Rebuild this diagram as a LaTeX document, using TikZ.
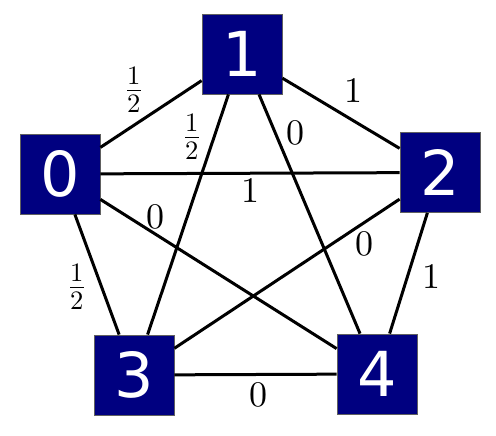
\documentclass[tikz,border=0pt]{standalone}
\usepackage{fontspec}
\usepackage{unicode-math}
\setmathfont{Latin Modern Math}
\newfontfamily\boxfont{DejaVu Sans}
\usetikzlibrary{positioning}
\definecolor{boxblue}{RGB}{0,0,128}
\definecolor{boxedge}{RGB}{96,96,96}
\tikzset{
	vertex/.style={draw=boxedge, line width=0.8pt, fill=boxblue, text=white,
		minimum size=80pt, inner sep=0pt, font=\boxfont\fontsize{62}{62}\selectfont}
}
\tikzset{
	weight/.style={inner sep=0pt, font=\fontsize{36}{40}\selectfont},
	halfweight/.style={weight, font=\fontsize{38}{42}\selectfont}
}
\tikzset{
	link/.style={line width=3pt}
}

\begin{document}
\begin{tikzpicture}[x=1pt, y=-1pt]
      \useasboundingbox (0,0) rectangle (496,436);
      % vertices
      \foreach \n/\x/\y in {0/60/174, 1/242/54, 2/440/172.5, 3/134/375, 4/377/374}
        \node[vertex] (v\n) at (\x,\y) {\n};
      % edges
      \foreach \a/\b in {0/1, 1/2, 1/3, 1/4, 0/2, 0/4, 2/3, 2/4, 0/3, 3/4}
        \draw[link] (v\a) -- (v\b);
      % weights
      \node[halfweight] (w01) at (134,90) {$\frac{1}{2}$};
      \node[halfweight] (w13) at (192,137) {$\frac{1}{2}$};
      \node[halfweight] (w03) at (77,287) {$\frac{1}{2}$};
      \foreach \e/\x/\y/\l in {12/353/91/1, 14/295/133/0, 02/250/191/1, 04/155.5/217/0,
          23/364/244/0, 24/431/276.5/1, 34/258/395/0}
        \node[weight] (w\e) at (\x,\y) {$\l$};
    \end{tikzpicture}
\end{document}
